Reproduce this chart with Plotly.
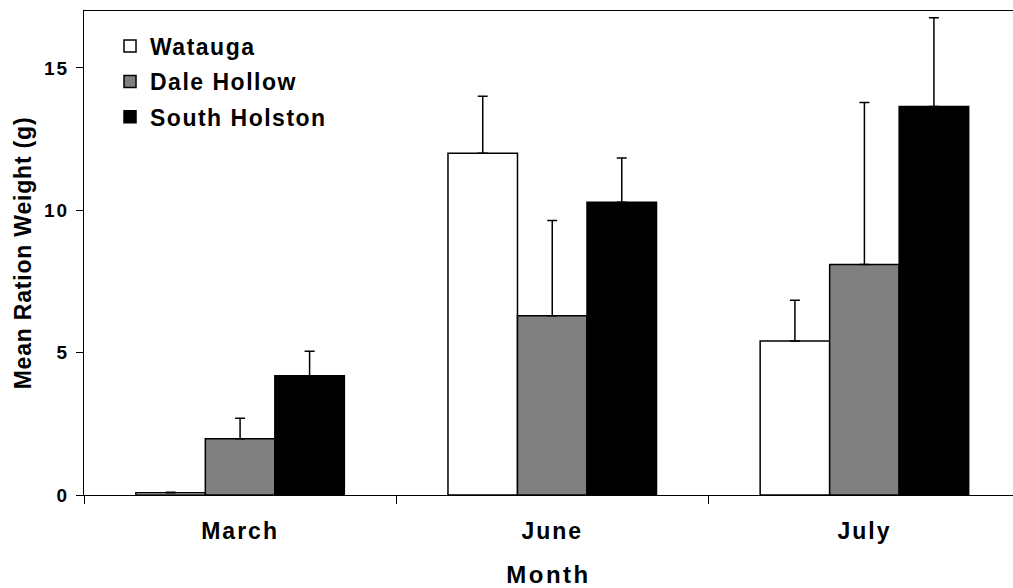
import plotly.graph_objects as go

months = ["March", "June", "July"]
series_names = ["Watauga", "Dale Hollow", "South Holston"]
watauga = [0.08, 12.0, 5.41]
dale_hollow = [1.98, 6.30, 8.10]
south_holston = [4.19, 10.28, 13.65]
watauga_err = [0.02, 2.01, 1.43]
dale_hollow_err = [0.72, 3.34, 5.69]
south_holston_err = [0.86, 1.56, 3.11]
y_ticks = [0, 5, 10, 15]

FONT = "Liberation Sans, Arial, sans-serif"
fills = ["#ffffff", "#808080", "#000000"]

fig = go.Figure()
for name, vals, errs, fill in zip(series_names,
                                  [watauga, dale_hollow, south_holston],
                                  [watauga_err, dale_hollow_err, south_holston_err],
                                  fills):
    fig.add_trace(go.Bar(
        name=name, x=months, y=vals,
        marker=dict(color=fill, line=dict(color="#000000", width=1.5)),
        error_y=dict(type="data", symmetric=False, array=errs,
                     arrayminus=[0] * len(errs),
                     color="#000000", thickness=1.5, width=5),
        legendgroup=name,
    ))

fig.update_layout(
    width=1013, height=588,
    margin=dict(l=84, r=0, t=11, b=93),
    paper_bgcolor="white", plot_bgcolor="white",
    barmode="group", bargap=0.332, bargroupgap=0,
    font=dict(family=FONT, color="#000000", weight="bold"),
    showlegend=True,
    legend=dict(x=0.028, y=0.972, xanchor="left", yanchor="top",
                bgcolor="rgba(0,0,0,0)", borderwidth=0,
                font=dict(size=23, family=FONT, weight="bold"),
                tracegroupgap=2.5, itemclick=False),
    xaxis=dict(
        type="category", range=[-0.5, 2.476],
        showline=True, linecolor="#000000", linewidth=1.3, mirror=True,
        ticks="outside", tickson="boundaries", ticklen=8, tickwidth=1,
        tickcolor="#000000", showgrid=False, zeroline=False,
        tickfont=dict(size=23, family=FONT, weight="bold"),
        ticklabelstandoff=15,
        title=dict(text="Month", standoff=25,
                   font=dict(size=24, family=FONT, weight="bold")),
    ),
    yaxis=dict(
        range=[0, 17], tickvals=y_ticks,
        showline=True, linecolor="#000000", linewidth=1.3,
        ticks="outside", ticklen=7, tickwidth=1, tickcolor="#000000",
        showgrid=False, zeroline=False,
        tickfont=dict(size=19, family=FONT, weight="bold"),
        ticklabelstandoff=3,
        title=dict(text="Mean Ration Weight (g)", standoff=9,
                   font=dict(size=23, family=FONT, weight="bold")),
    ),
)

# Slightly spaced lettering for all chart text; legend entries are left unclipped
spacing_js = """
var st = document.createElement('style');
st.textContent = '.main-svg .legendtext {letter-spacing: 1.5px;}'
 + ' .main-svg .xtick text {letter-spacing: 2px;}'
 + ' .main-svg .g-xtitle text {letter-spacing: 2.5px;}'
 + ' .main-svg .ytick text {letter-spacing: 2px;}'
 + ' .main-svg .g-ytitle text {letter-spacing: 0.8px;}'
 + ' .main-svg .legend .scrollbox {clip-path: none !important;}';
document.head.appendChild(st);
"""

fig.write_html("out.html", post_script=spacing_js)
